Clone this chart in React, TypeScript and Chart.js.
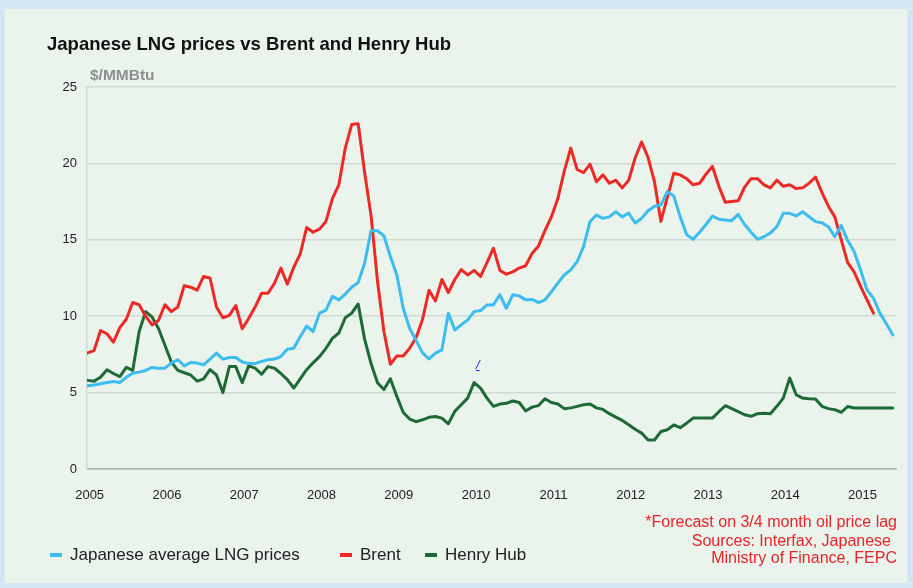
import React, { useEffect, useRef } from "react";
import { Chart, registerables } from "chart.js";

Chart.register(...registerables);

// ---- Data (monthly, Jan 2005 onward) ----
const yearLabels = ["2005", "2006", "2007", "2008", "2009", "2010", "2011", "2012", "2013", "2014", "2015"];

const lngPrices = [
  5.45, 5.5, 5.58, 5.66, 5.73, 5.66, 6.0, 6.27, 6.34, 6.45, 6.65, 6.6,
  6.6, 6.93, 7.15, 6.75, 6.97, 6.93, 6.82, 7.19, 7.58, 7.19, 7.3, 7.3,
  7.0, 6.9, 6.9, 7.04, 7.15, 7.2, 7.36, 7.84, 7.9, 8.65, 9.35, 9.0,
  10.2, 10.4, 11.3, 11.07, 11.45, 11.9, 12.2, 13.46, 15.6, 15.6, 15.25, 13.9,
  12.7, 10.5, 9.2, 8.4, 7.6, 7.2, 7.58, 7.8, 10.2, 9.1, 9.43, 9.76,
  10.3, 10.37, 10.74, 10.74, 11.4, 10.52, 11.4, 11.33, 11.07, 11.1, 10.89, 11.07,
  11.6, 12.16, 12.7, 13.03, 13.57, 14.55, 16.2, 16.62, 16.4, 16.5, 16.84, 16.5,
  16.75, 16.1, 16.4, 16.9, 17.2, 17.28, 18.15, 17.86, 16.5, 15.35, 15.03, 15.5,
  16.0, 16.55, 16.35, 16.3, 16.25, 16.66, 16.0, 15.5, 15.03, 15.2, 15.45, 15.86,
  16.73, 16.73, 16.56, 16.84, 16.51, 16.19, 16.12, 15.86, 15.2, 15.93, 14.95, 14.23,
  13.03, 11.72, 11.18, 10.2, 9.5, 8.78,
];

const brentPrices = [
  7.6, 7.75, 9.06, 8.85, 8.3, 9.25, 9.8, 10.9, 10.75, 10.0, 9.43, 9.72,
  10.75, 10.3, 10.6, 12.0, 11.9, 11.7, 12.6, 12.5, 10.6, 9.9, 10.05, 10.7,
  9.18, 9.85, 10.6, 11.5, 11.5, 12.15, 13.15, 12.1, 13.2, 14.07, 15.8, 15.5,
  15.7, 16.2, 17.7, 18.6, 21.0, 22.55, 22.6, 19.4, 16.6, 12.3, 9.0, 6.85,
  7.4, 7.4, 7.9, 8.6, 9.8, 11.7, 11.0, 12.4, 11.55, 12.4, 13.05, 12.7,
  13.0, 12.6, 13.5, 14.45, 13.0, 12.75, 12.9, 13.15, 13.3, 14.1, 14.6, 15.6,
  16.5, 17.7, 19.5, 21.0, 19.6, 19.4, 19.95, 18.8, 19.25, 18.7, 18.9, 18.4,
  18.9, 20.35, 21.4, 20.4, 18.8, 16.2, 17.8, 19.35, 19.25, 19.0, 18.6, 18.7,
  19.3, 19.8, 18.5, 17.45, 17.5, 17.55, 18.45, 19.0, 19.0, 18.6, 18.4, 18.9,
  18.5, 18.6, 18.35, 18.4, 18.7, 19.1, 18.1, 17.2, 16.5, 15.0, 13.5, 12.9,
  11.95, 11.07, 10.2,
];

const henryHubPrices = [
  5.8, 5.75, 6.0, 6.5, 6.25, 6.05, 6.65, 6.45, 9.0, 10.3, 9.95, 9.2,
  8.1, 7.0, 6.45, 6.3, 6.15, 5.75, 5.9, 6.5, 6.15, 5.0, 6.7, 6.7,
  5.65, 6.75, 6.6, 6.2, 6.7, 6.6, 6.25, 5.85, 5.3, 5.9, 6.5, 6.95,
  7.35, 7.9, 8.55, 8.9, 9.9, 10.2, 10.8, 8.5, 6.9, 5.65, 5.2, 5.9,
  4.75, 3.7, 3.27, 3.1, 3.22, 3.38, 3.44, 3.33, 2.96, 3.77, 4.2, 4.64,
  5.66, 5.29, 4.64, 4.1, 4.25, 4.3, 4.45, 4.35, 3.8, 4.05, 4.15, 4.6,
  4.35, 4.25, 3.95, 4.0, 4.1, 4.2, 4.25, 4.0, 3.9, 3.62, 3.4, 3.18,
  2.9, 2.6, 2.35, 1.9, 1.9, 2.45, 2.57, 2.88, 2.7, 3.0, 3.33, 3.33,
  3.33, 3.33, 3.75, 4.14, 3.95, 3.75, 3.55, 3.45, 3.62, 3.65, 3.62, 4.1,
  4.64, 5.95, 4.86, 4.64, 4.6, 4.58, 4.1, 3.95, 3.88, 3.7, 4.09, 3.99,
  3.99, 3.99, 3.99, 3.99, 3.99, 3.99,
];

const seriesNames = ["Japanese average LNG prices", "Brent", "Henry Hub"];
const seriesColors = ["#3dbcf0", "#ec2a25", "#1d6a36"];
const yMin = 0;
const yMax = 25;
const yStep = 5;

const FONT = "'Liberation Sans', Arial, sans-serif";

const toPoints = (arr: number[]) => arr.map((y, i) => ({ x: i, y }));

function App() {
  const canvasRef = useRef<HTMLCanvasElement | null>(null);

  useEffect(() => {
    const canvas = canvasRef.current;
    if (!canvas) return;
    const chart = new Chart(canvas, {
      type: "line",
      data: {
        datasets: [
          { label: seriesNames[0], data: toPoints(lngPrices), borderColor: seriesColors[0], backgroundColor: seriesColors[0] },
          { label: seriesNames[1], data: toPoints(brentPrices), borderColor: seriesColors[1], backgroundColor: seriesColors[1] },
          { label: seriesNames[2], data: toPoints(henryHubPrices), borderColor: seriesColors[2], backgroundColor: seriesColors[2] },
        ],
      },
      options: {
        animation: false,
        responsive: false,
        maintainAspectRatio: false,
        layout: { padding: { left: 47, right: 17, top: 87, bottom: 79 } },
        plugins: { legend: { display: false }, tooltip: { enabled: false }, title: { display: false } },
        elements: {
          point: { radius: 0, hoverRadius: 0 },
          line: { borderWidth: 3, tension: 0, borderJoinStyle: "round", borderCapStyle: "round" },
        },
        scales: {
          x: {
            type: "linear",
            min: -0.1,
            max: 125.5,
            afterFit: (s: any) => {
              s.height = 40;
            },
            afterBuildTicks: (s: any) => {
              s.ticks = yearLabels.map((_, i) => ({ value: i * 12 }));
            },
            grid: { display: false, drawTicks: false },
            border: { display: true, color: "#aab1ad", width: 1.5 },
            ticks: {
              autoSkip: false,
              maxRotation: 0,
              padding: 19,
              labelOffset: 2,
              color: "#222",
              font: { family: FONT, size: 13 },
              callback: (v: any) => yearLabels[Math.round(Number(v) / 12)] ?? "",
            },
          },
          y: {
            min: yMin,
            max: yMax,
            afterFit: (s: any) => {
              s.width = 40;
            },
            grid: { color: "#d2d9d5", lineWidth: 1.5, drawTicks: false },
            border: { display: true, color: "#d2d9d5", width: 1.5 },
            ticks: {
              stepSize: yStep,
              padding: 10,
              color: "#222",
              font: { family: FONT, size: 13 },
            },
          },
        },
      },
    });
    return () => chart.destroy();
  }, []);

  const legendItem = (i: number, left: number) => (
    <div
      key={i}
      style={{ position: "absolute", left, top: 545, height: 20, display: "flex", alignItems: "center" }}
    >
      <span style={{ display: "inline-block", width: 12, height: 4, background: seriesColors[i], marginRight: 8 }} />
      <span style={{ fontFamily: FONT, fontSize: 17, color: "#222", whiteSpace: "nowrap" }}>{seriesNames[i]}</span>
    </div>
  );

  return (
    <div style={{ position: "fixed", left: 0, top: 0, width: 913, height: 588, background: "#d3e6f3", overflow: "hidden" }}>
      <div style={{ position: "absolute", left: 5, top: 9, width: 902, height: 574, background: "#eaf4ec" }} />
      <canvas ref={canvasRef} width={913} height={588} style={{ position: "absolute", left: 0, top: 0, width: 913, height: 588 }} />
      <div style={{ position: "absolute", left: 47, top: 33, fontFamily: FONT, fontSize: 18.5, fontWeight: 700, color: "#111", whiteSpace: "nowrap" }}>
        Japanese LNG prices vs Brent and Henry Hub
      </div>
      <div style={{ position: "absolute", left: 90, top: 66, fontFamily: FONT, fontSize: 15.5, fontWeight: 700, color: "#8c918e", whiteSpace: "nowrap" }}>
        $/MMBtu
      </div>
      <div style={{ position: "absolute", left: 476, top: 357, fontFamily: FONT, fontSize: 13, fontStyle: "italic", color: "#1a1aff", textDecoration: "underline" }}>
        /
      </div>
      {legendItem(0, 50)}
      {legendItem(1, 340)}
      {legendItem(2, 425)}
      <div style={{ position: "absolute", right: 16, top: 513, textAlign: "right", fontFamily: FONT, fontSize: 16, color: "#e8232a", lineHeight: "17px", whiteSpace: "nowrap" }}>
        <div>*Forecast on 3/4 month oil price lag</div>
        <div style={{ marginTop: 2, paddingRight: 6 }}>Sources: Interfax, Japanese</div>
        <div>Ministry of Finance, FEPC</div>
      </div>
    </div>
  );
}

export default App;
